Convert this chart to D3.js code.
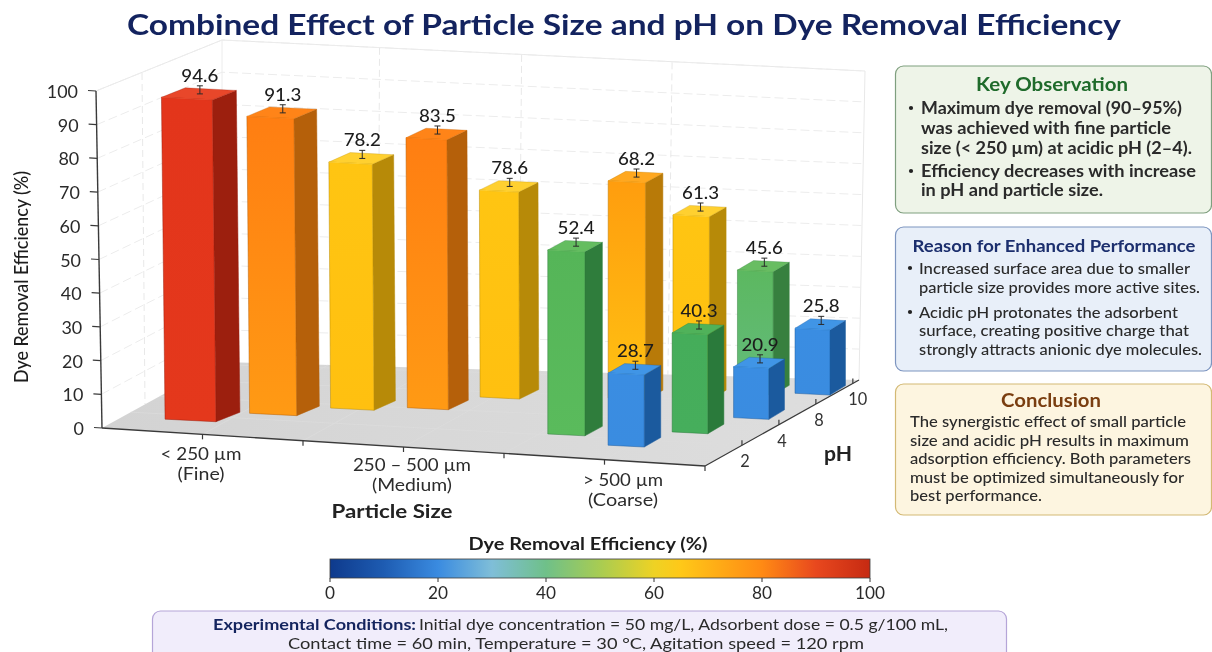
<!DOCTYPE html>
<html><head><meta charset="utf-8">
<script src="https://cdn.jsdelivr.net/npm/d3@7/dist/d3.min.js"></script>
<style>html,body{margin:0;padding:0;background:#fff;overflow:hidden}svg{display:block;font-family:Lato,"Open Sans",sans-serif;filter:blur(.35px)}</style>
</head><body><svg id="c" width="1212" height="652"></svg>
<script>
// ---------- data ----------
const titleText = "Combined Effect of Particle Size and pH on Dye Removal Efficiency";
const yTicks = [0,10,20,30,40,50,60,70,80,90,100];
const phTicks = ["2","4","8","10"];
const colorbarTicks = [0,20,40,60,80,100];
const sizeLabels = [["< 250 µm","(Fine)"],["250 – 500 µm","(Medium)"],["> 500 µm","(Coarse)"]];
// printed value of every bar
const barValues = [94.6,91.3,78.2,83.5,78.6,52.4,68.2,61.3,45.6,28.7,40.3,20.9,25.8];
// the height each bar reaches against the y axis, as drawn in the picture
const barDrawn  = [95.5,88.1,73.0,80.1,61.4,54.6,64.4,54.3,36.5,21.4,29.4,15.1,19.3];
// bar foot on the floor, in particle-size band units (0-3) and pH slot units (0-4)
const barSizeCoord = [0.21,0.54,0.86,1.20,1.44,2.04,2.02,2.31,2.56,2.40,2.58,2.74,2.82];
const barPhCoord   = [0.71,1.29,1.79,2.00,2.71,1.04,2.92,3.04,3.38,0.67,1.44,2.23,3.46];
const barTier = ["red","orange","yellow","orange","yellow","green","amber","yellow","mint","blue","emerald","blue","blue"];
const barError = [1.2,1.2,1.2,1.2,1.2,1.2,1.2,1.2,1.2,1.2,1.2,1.2,1.2];

// ---------- styles ----------
const palette = {
  red:   {hi:"#e3351b",lo:"#e4381c",side:"#9c1f0e",top:"#e8472a"},
  orange:{hi:"#ff7e12",lo:"#ff9a14",side:"#b5600a",top:"#ff8418"},
  amber: {hi:"#ff9d0e",lo:"#ffc212",side:"#b87a08",top:"#ffa820"},
  yellow:{hi:"#ffc512",lo:"#ffc010",side:"#b78a08",top:"#ffd030"},
  green: {hi:"#55b558",lo:"#5abb5c",side:"#2f7d3c",top:"#64bd60"},
  mint:  {hi:"#5cb860",lo:"#63bb7c",side:"#37803f",top:"#68bd62"},
  emerald:{hi:"#45ad5a",lo:"#46ae5c",side:"#2a7a3b",top:"#50b25a"},
  blue:  {hi:"#3a8de2",lo:"#3a8ce0",side:"#1b5a9e",top:"#4095e6"}
};
const ink="#222";
const svg=d3.select("#c");
const defs=svg.append("defs");

function put(g,str,x,y,o={}){
  const t=g.append("text").attr("x",x).attr("y",y)
    .attr("text-anchor",o.anchor||"start")
    .attr("font-size",o.size||15).attr("font-weight",o.weight||400)
    .attr("fill",o.fill||ink).attr("dominant-baseline","central").text(str);
  if(o.width){t.attr("textLength",o.width).attr("lengthAdjust","spacingAndGlyphs");}
  return t;
}

// ---------- title ----------
put(svg,titleText,624,24,{anchor:"middle",size:28,weight:700,fill:"#13235f",width:994});

// ---------- projection: floor edges and depth ----------
const frontX=d3.scaleLinear([0,1],[102,705]), frontY=d3.scaleLinear([0,1],[428,466]);
const backX =d3.scaleLinear([0,1],[222,859]), backY =d3.scaleLinear([0,1],[362,380]);
const sizeS =d3.scaleLinear([0,3],[0,1]);
const phS   =d3.scaleLinear([0,4],[0,0.96]);
function floor(u,v){
  const fx=frontX(u),fy=frontY(u),bx=backX(u),by=backY(u);
  return [fx+(bx-fx)*v, fy+(by-fy)*v];
}
const yFront=d3.scaleLinear([0,100],[0,337]);
const yBack =d3.scaleLinear([0,100],[0,322]);
const yBackR=d3.scaleLinear([0,100],[0,309]);
const leanF =d3.scaleLinear([0,100],[0,6]);
function wallLeftFront(t){return [102-leanF(t),428-yFront(t)];}
function wallBackLeft(t){return [222,362-yBack(t)];}
function wallBackRight(t){return [859+leanF(t),380-yBackR(t)];}

// ---------- walls & floor ----------
const plot=svg.append("g");
const lineP=d3.line();
plot.append("path").attr("d",lineP([wallLeftFront(100),wallBackLeft(100),wallBackRight(100),wallBackRight(0)]))
  .attr("fill","none").attr("stroke","#e8e8e8").attr("stroke-width",1);
plot.append("line").attr("x1",222).attr("y1",40).attr("x2",222).attr("y2",362).attr("stroke","#ececec");
const wallTicks=yTicks.filter(t=>t>0);
wallTicks.forEach(t=>{
  const p=wallLeftFront(t),q=wallBackLeft(t),r=wallBackRight(t);
  plot.append("path").attr("d",lineP([p,q,r])).attr("fill","none").attr("stroke","#ececec")
    .attr("stroke-dasharray","9 4").attr("stroke-width",1);
});
// vertical guides on the back and left walls
[0.245,0.466,0.70].forEach(f=>{
  const x=backX(f);
  plot.append("line").attr("x1",x+f*6).attr("y1",40+f*32).attr("x2",x).attr("y2",362+f*18)
   .attr("stroke","#e8e8e8").attr("stroke-dasharray","7 4");
});
plot.append("line").attr("x1",142).attr("y1",73).attr("x2",145).attr("y2",404)
   .attr("stroke","#e8e8e8").attr("stroke-dasharray","7 4");

const fg=defs.append("linearGradient").attr("id","floorG").attr("x1",0).attr("x2",1).attr("y1",0).attr("y2",0);
fg.append("stop").attr("offset","0").attr("stop-color","#d3d3d3");
fg.append("stop").attr("offset","1").attr("stop-color","#dedede");
plot.append("path").attr("d",lineP([floor(0,0),floor(1,0),floor(1,1),floor(0,1)])+"Z").attr("fill","url(#floorG)");
d3.range(1,6).forEach(k=>{
  plot.append("path").attr("d",lineP([floor(k/6,0),floor(k/6,1)])).attr("stroke","#dddddd").attr("stroke-width",.7).attr("fill","none");
});
phTicks.forEach((d,i)=>{
  plot.append("path").attr("d",lineP([floor(0,phS(i+1)),floor(1,phS(i+1))])).attr("stroke","#dcdcdc").attr("stroke-width",.7).attr("fill","none");
});

// ---------- axes ----------
const axisCol="#3a3a3a";
const axes=svg.append("g");
axes.append("path").attr("d",lineP([wallLeftFront(100),wallLeftFront(0)])).attr("stroke",axisCol).attr("stroke-width",1.4).attr("fill","none");
yTicks.forEach(t=>{
  const p=wallLeftFront(t);
  axes.append("line").attr("x1",p[0]-8).attr("y1",p[1]-.5).attr("x2",p[0]).attr("y2",p[1]).attr("stroke",axisCol).attr("stroke-width",1.2);
  put(axes,String(t),p[0]-18,p[1]+.5,{anchor:"end",size:17.5,fill:"#2a2a2a",width:String(t).length*10.4});
});
put(axes,"Dye Removal Efficiency (%)",0,0,{anchor:"middle",size:19.5,fill:"#1d1d1d",weight:500,width:212})
  .attr("transform","translate(20,277) rotate(-90)");
axes.append("path").attr("d",lineP([floor(0,0),floor(1,0)])).attr("stroke",axisCol).attr("stroke-width",1.4).attr("fill","none");
axes.append("path").attr("d",lineP([floor(1,0),floor(1,1)])).attr("stroke",axisCol).attr("stroke-width",1.2).attr("fill","none");
d3.range(1,7).forEach(k=>{
  const p=floor(k/6,0);
  axes.append("line").attr("x1",p[0]).attr("y1",p[1]).attr("x2",p[0]).attr("y2",p[1]+5).attr("stroke",axisCol).attr("stroke-width",1.2);
});
const sizeLabelPos=[[201,453,473,81,47],[412,464,484,118,80],[623,479,499,80,70]];
sizeLabels.forEach((l,i)=>{
  const s=sizeLabelPos[i];
  put(axes,l[0],s[0],s[1],{anchor:"middle",size:17,fill:"#2c2c2c",width:s[3]});
  put(axes,l[1],s[0],s[2],{anchor:"middle",size:17,fill:"#2c2c2c",width:s[4]});
});
put(axes,"Particle Size",392,511,{anchor:"middle",size:18.5,weight:700,fill:"#222",width:121});
phTicks.forEach((d,i)=>{
  const p=floor(1,phS(i+1));
  axes.append("line").attr("x1",p[0]).attr("y1",p[1]).attr("x2",p[0]).attr("y2",p[1]-5).attr("stroke",axisCol).attr("stroke-width",1.2);
  put(axes,d,p[0]+3+(d==="10"?2:0),p[1]+16,{anchor:"middle",size:16.5,fill:"#333",width:d.length*9.5});
});
put(axes,"pH",838,453,{anchor:"middle",size:20,weight:700,fill:"#222",width:28});

// ---------- bars ----------
const wS =d3.scaleLinear([0.2,0.9,1.5,2.1,3],[51,43,39,37,34.5]).clamp(true);
const dxS=d3.scaleLinear([0.2,1.2,2,3],[24,20,17.5,15]).clamp(true);
const leanS=d3.scaleLinear([0,2],[0.0125,0]).clamp(true);
const slope=0.05, dy=9.5;
const bars=barValues.map((v,i)=>{
  const sc=barSizeCoord[i],pc=barPhCoord[i];
  const [x,y]=floor(sizeS(sc),phS(pc));
  const h=yFront(barDrawn[i]),w=wS(sc),dx=dxS(sc),lean=leanS(sc)*h;
  return {i,v,x,y,h,w,dx,lean,tier:barTier[i],err:yFront(barError[i]),pc};
});
const ordered=d3.sort(bars,d=>-d.pc);
const barG=svg.append("g");
ordered.forEach(b=>{
  const c=palette[b.tier];
  const id="g"+b.i;
  const gr=defs.append("linearGradient").attr("id",id).attr("x1",0).attr("x2",0).attr("y1",0).attr("y2",1);
  gr.append("stop").attr("offset","0").attr("stop-color",c.hi);
  gr.append("stop").attr("offset","1").attr("stop-color",c.lo);
  const blx=b.x, bly=b.y, tlx=b.x-b.lean, tly=b.y-b.h;
  const fl=[blx,bly], fr=[blx+b.w,bly+b.w*slope];
  const tl=[tlx,tly], tr=[tlx+b.w,tly+b.w*slope];
  const d=[b.dx,-dy];
  const add=(p)=>[p[0]+d[0],p[1]+d[1]];
  const g=barG.append("g");
  g.append("path").attr("d",lineP([tr,add(tr),add(fr),fr])+"Z").attr("fill",c.side).attr("stroke",c.side).attr("stroke-width",.5);
  g.append("path").attr("d",lineP([tl,tr,add(tr),add(tl)])+"Z").attr("fill",c.top).attr("stroke",c.side).attr("stroke-width",.3);
  g.append("path").attr("d",lineP([tl,tr,fr,fl])+"Z").attr("fill",`url(#${id})`).attr("stroke",c.side).attr("stroke-width",.5);
  g.append("line").attr("x1",tl[0]).attr("y1",tl[1]).attr("x2",tr[0]).attr("y2",tr[1]).attr("stroke",c.top).attr("stroke-width",1);
  b.cx=tlx+b.w/2+b.dx/2+1; b.cy=tly+b.w*slope/2-dy/2-4;
});
const labelG=svg.append("g");
bars.forEach(b=>{
  const t=b.cy-b.err,l=b.cy+b.err;
  labelG.append("path").attr("d",`M${b.cx},${t}V${l}M${b.cx-3},${t}H${b.cx+3}M${b.cx-3},${l}H${b.cx+3}`)
    .attr("stroke","#2a2a2a").attr("stroke-width",1).attr("fill","none");
  put(labelG,b.v.toFixed(1),b.cx,t-10.5,{anchor:"middle",size:17.5,weight:500,fill:"#1c1c1c",width:37});
});

// ---------- colour bar ----------
const cbX=d3.scaleLinear([0,100],[330,870]);
const cbDomain=[0,10,20,30,40,50,60,65,72,80,90,100];
const cbRange=["#0e3a8c","#1e5cb2","#3a8be0","#7fbed8","#6fc089","#a8cc52","#eed224","#ffc818","#ffab16","#ff8a14","#e8481e","#c62a12"];
const cb=defs.append("linearGradient").attr("id","cbG").attr("x1",0).attr("x2",1).attr("y1",0).attr("y2",0);
cbDomain.forEach((d,i)=>cb.append("stop").attr("offset",d/100).attr("stop-color",cbRange[i]));
const leg=svg.append("g");
put(leg,"Dye Removal Efficiency (%)",588,544,{anchor:"middle",size:16.5,weight:700,fill:"#1d1d1d",width:239});
leg.append("rect").attr("x",cbX(0)).attr("y",559).attr("width",cbX(100)-cbX(0)).attr("height",19).attr("fill","url(#cbG)").attr("stroke","#3d3d3d").attr("stroke-width",.8);
colorbarTicks.forEach(t=>{
  leg.append("line").attr("x1",cbX(t)).attr("x2",cbX(t)).attr("y1",578).attr("y2",582).attr("stroke","#333");
  put(leg,String(t),cbX(t),592,{anchor:"middle",size:17,fill:"#2a2a2a",width:String(t).length*10});
});

// ---------- side panels ----------
function panel(y,h,fill,stroke){
  svg.append("rect").attr("x",895.5).attr("y",y).attr("width",316).attr("height",h).attr("rx",8)
    .attr("fill",fill).attr("stroke",stroke).attr("stroke-width",1.2);
}
function bullet(y,x,color){svg.append("circle").attr("cx",x).attr("cy",y).attr("r",2.1).attr("fill",color||"#222");}
panel(66,147,"#eef4e8","#7f9f7f");
put(svg,"Key Observation",1052,84,{anchor:"middle",size:18,weight:700,fill:"#1f6b2b",width:152});
[["Maximum dye removal (90–95%)",108,261,1],["was achieved with fine particle",128,250],["size (< 250 µm) at acidic pH (2–4).",148,271],
 ["Efficiency decreases with increase",171,275,1],["in pH and particle size.",190,182]].forEach(l=>{
  put(svg,l[0],921,l[1],{size:16.5,weight:700,fill:"#2a2a2a",width:l[2]});
  if(l[3])bullet(l[1],911);
});
panel(227,144,"#e8eff9","#7d95c0");
put(svg,"Reason for Enhanced Performance",1054,245,{anchor:"middle",size:17,weight:700,fill:"#1c2f6e",width:283});
[["Increased surface area due to smaller",268,271,1],["particle size provides more active sites.",287,281],
 ["Acidic pH protonates the adsorbent",312,259,1],["surface, creating positive charge that",330,270],["strongly attracts anionic dye molecules.",349,283]].forEach(l=>{
  put(svg,l[0],919,l[1],{size:15.5,weight:500,fill:"#2a2a2a",width:l[2]});
  if(l[3])bullet(l[1],910);
});
panel(384,131,"#fdf5e0","#d3b974");
put(svg,"Conclusion",1051,400,{anchor:"middle",size:18,weight:700,fill:"#7a3e10",width:100});
[["The synergistic effect of small particle",421,276],["size and acidic pH results in maximum",440,279],["adsorption efficiency. Both parameters",458,281],
 ["must be optimized simultaneously for",477,274],["best performance.",495,132]].forEach(l=>{
  put(svg,l[0],910,l[1],{size:15.5,weight:500,fill:"#2a2a2a",width:l[2]});
});

// ---------- conditions box ----------
svg.append("rect").attr("x",152.5).attr("y",611).attr("width",854).attr("height",60).attr("rx",8).attr("fill","#f1edfb").attr("stroke","#b5a5d8").attr("stroke-width",1.2);
put(svg,"Experimental Conditions:",213,623,{size:16,weight:700,fill:"#14245e",width:203});
put(svg,"Initial dye concentration = 50 mg/L, Adsorbent dose = 0.5 g/100 mL,",419,623,{size:16,fill:"#2a2a2a",width:529});
put(svg,"Contact time = 60 min, Temperature  = 30 °C, Agitation speed = 120 rpm",288,642,{size:16,fill:"#2a2a2a",width:576});
</script></body></html>
